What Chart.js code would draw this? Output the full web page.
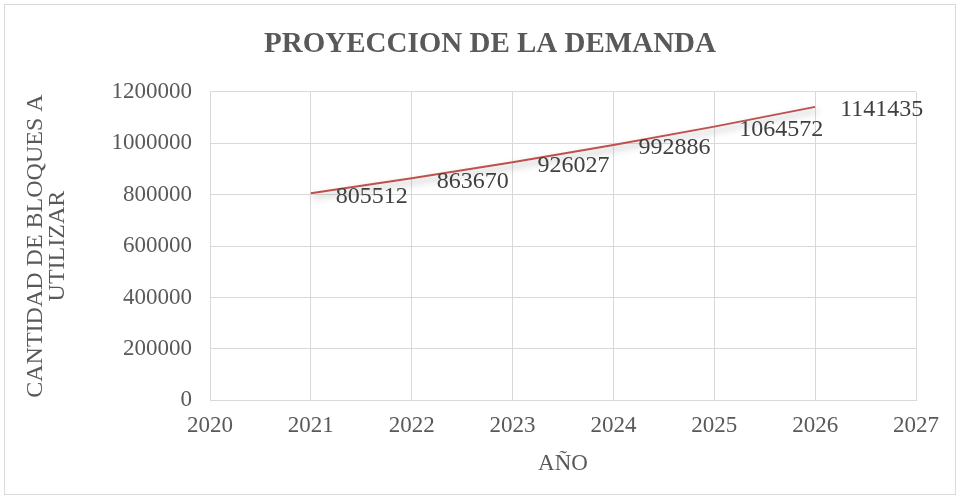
<!DOCTYPE html>
<html>
<head>
<meta charset="utf-8">
<script src="https://cdn.jsdelivr.net/npm/chart.js@4"></script>
<style>
  html, body { margin: 0; padding: 0; background: #fff; }
  #wrap { width: 960px; height: 499px; }
</style>
</head>
<body>
<div id="wrap"><canvas id="grafico"></canvas></div>
<script>
// Datos
const years = [2021, 2022, 2023, 2024, 2025, 2026];
const demand = [805512, 863670, 926027, 992886, 1064572, 1141435];

const textGray = '#595959';
const serif = "'Liberation Serif', 'Times New Roman', serif";

// Marco exterior del gráfico
const framePlugin = {
  id: 'frame',
  beforeDraw(chart) {
    const ctx = chart.ctx;
    ctx.save();
    ctx.fillStyle = '#fff';
    ctx.fillRect(0, 0, chart.width, chart.height);
    ctx.strokeStyle = '#d9d9d9';
    ctx.lineWidth = 1;
    ctx.strokeRect(4.5, 4.5, chart.width - 9, chart.height - 9);
    ctx.restore();
  }
};

// El título del original está un poco a la derecha del centro
const titleShift = {
  id: 'titleShift',
  afterLayout(chart) {
    const t = chart.titleBlock;
    if (t) { t.left += 26; t.right += 26; }
  }
};

// Sombra de la línea
const shadowPlugin = {
  id: 'lineShadow',
  beforeDatasetDraw(chart) {
    const ctx = chart.ctx;
    ctx.save();
    ctx.shadowColor = 'rgba(0,0,0,0.35)';
    ctx.shadowBlur = 7;
    ctx.shadowOffsetX = 2;
    ctx.shadowOffsetY = 4;
  },
  afterDatasetDraw(chart) {
    chart.ctx.restore();
  }
};

// Etiquetas de datos a la derecha del punto
const labelPlugin = {
  id: 'dataLabels',
  afterDatasetsDraw(chart) {
    const ctx = chart.ctx;
    const meta = chart.getDatasetMeta(0);
    ctx.save();
    ctx.font = '24px ' + serif;
    ctx.fillStyle = '#404040';
    ctx.textAlign = 'left';
    ctx.textBaseline = 'middle';
    meta.data.forEach((pt, i) => {
      ctx.fillText(String(demand[i]), pt.x + 25, pt.y + 3);
    });
    ctx.restore();
  }
};

const data = {
  datasets: [{
    label: 'Demanda',
    data: years.map((y, i) => ({ x: y, y: demand[i] })),
    borderColor: '#c0504d',
    borderWidth: 2,
    pointRadius: 0,
    fill: false,
    tension: 0
  }]
};

const config = {
  type: 'line',
  data,
  options: {
    responsive: true,
    maintainAspectRatio: false,
    animation: false,
    layout: { padding: { left: 12, right: 44, top: 15, bottom: 20 } },
    plugins: {
      legend: { display: false },
      tooltip: { enabled: false },
      title: {
        display: true,
        text: 'PROYECCION DE LA DEMANDA',
        color: textGray,
        font: { family: serif, size: 29, weight: 'bold' },
        padding: { top: 12, bottom: 30 }
      }
    },
    scales: {
      x: {
        type: 'linear',
        min: 2020,
        max: 2027,
        ticks: {
          stepSize: 1,
          color: textGray,
          font: { family: serif, size: 23 },
          padding: 12,
          callback: v => String(v)
        },
        grid: { color: '#d9d9d9', lineWidth: 1, drawTicks: false },
        border: { color: '#d9d9d9' },
        title: {
          display: true,
          text: 'AÑO',
          color: textGray,
          font: { family: serif, size: 23, lineHeight: 1.0 },
          padding: { top: 0 }
        }
      },
      y: {
        min: 0,
        max: 1200000,
        ticks: {
          stepSize: 200000,
          color: textGray,
          font: { family: serif, size: 23 },
          padding: 18,
          callback: v => String(v)
        },
        grid: { color: '#d9d9d9', lineWidth: 1, drawTicks: false },
        border: { display: false },
        title: {
          display: true,
          text: ['CANTIDAD DE BLOQUES A', 'UTILIZAR'],
          color: textGray,
          font: { family: serif, size: 24, lineHeight: 0.95 },
          padding: { top: 12, bottom: 10 }
        },
        afterFit(scale) {
          scale.width = 198;
        }
      }
    }
  },
  plugins: [framePlugin, titleShift, shadowPlugin, labelPlugin]
};

new Chart(document.getElementById('grafico'), config);
</script>
</body>
</html>
